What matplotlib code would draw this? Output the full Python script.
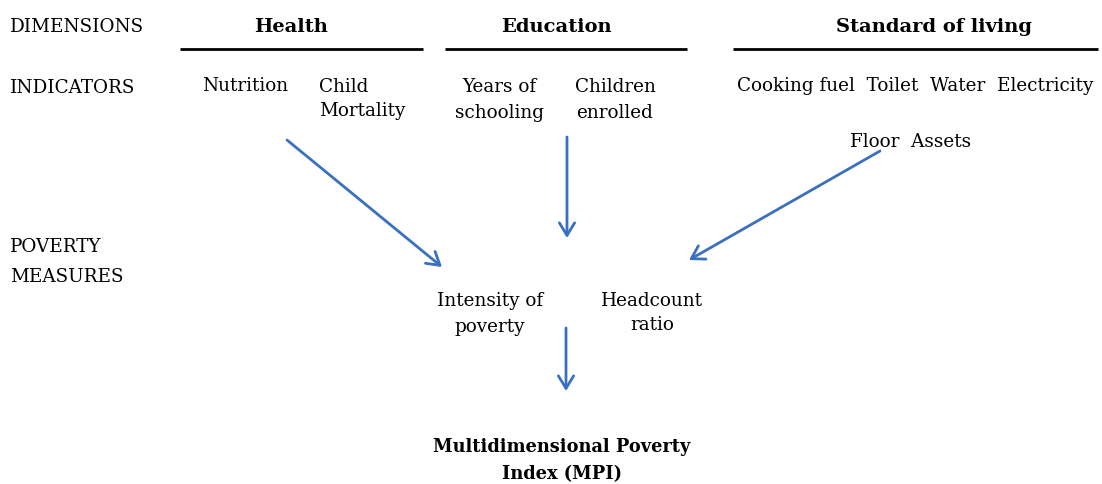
import matplotlib.pyplot as plt

# row labels on the left
row_labels = ['DIMENSIONS', 'INDICATORS', 'POVERTY\nMEASURES']

# dimensions and their indicators
dimensions = ['Health', 'Education', 'Standard of living']
health_ind = ['Nutrition', 'Child\nMortality']
education_ind = ['Years of\nschooling', 'Children\nenrolled']
living_ind = ['Cooking fuel  Toilet  Water  Electricity', 'Floor  Assets']

# poverty measures and final index
measures = ['Intensity of\npoverty', 'Headcount\nratio']
index_name = 'Multidimensional Poverty\nIndex (MPI)'

W, H = 1102, 484
blue = '#3a70c0'
font = 'DejaVu Serif'
fs = 13.2

fig = plt.figure(figsize=(W / 100, H / 100), dpi=100)
ax = fig.add_axes([0, 0, 1, 1])
ax.set_xlim(0, W)
ax.set_ylim(H, 0)
ax.axis('off')

# left column
ax.text(10, 27, row_labels[0], family=font, fontsize=fs, va='center', ha='left')
ax.text(10, 88, row_labels[1], family=font, fontsize=fs, va='center', ha='left')
ax.text(10, 262, row_labels[2], family=font, fontsize=fs, va='center', ha='left',
        linespacing=1.9)

# dimension headings with rules under them
dim_x = [291, 556, 934]
dim_span = [(180, 423), (445, 687), (733, 1098)]
for name, x, (x0, x1) in zip(dimensions, dim_x, dim_span):
    ax.text(x, 27, name, family=font, fontsize=14, fontweight='bold', va='center', ha='center')
    ax.plot([x0, x1], [49, 49], color='black', lw=2, solid_capstyle='butt')

# indicators
ax.text(245, 86, health_ind[0], family=font, fontsize=fs, va='center', ha='center')
ax.text(319, 99, health_ind[1], family=font, fontsize=fs, va='center', ha='left', linespacing=1.45)
ax.text(499, 100, education_ind[0], family=font, fontsize=fs, va='center', ha='center', linespacing=1.55)
ax.text(615, 100, education_ind[1], family=font, fontsize=fs, va='center', ha='center', linespacing=1.55)
ax.text(915, 86, living_ind[0], family=font, fontsize=fs, va='center', ha='center')
ax.text(911, 142, living_ind[1], family=font, fontsize=fs, va='center', ha='center')

# poverty measures
ax.text(490, 314, measures[0], family=font, fontsize=fs, va='center', ha='center', linespacing=1.55)
ax.text(652, 313, measures[1], family=font, fontsize=fs, va='center', ha='center', linespacing=1.45)

# final index
ax.text(562, 461, index_name, family=font, fontsize=12.8, fontweight='bold', va='center',
        ha='center', linespacing=1.65)

# arrows
arrows = [((287, 140), (442, 267)),
          ((567, 137), (567, 238)),
          ((880, 151), (689, 260)),
          ((566, 328), (566, 391))]
for start, end in arrows:
    ax.annotate('', xy=end, xytext=start,
                arrowprops=dict(arrowstyle='->,head_length=0.9,head_width=0.55',
                                color=blue, lw=2, shrinkA=0, shrinkB=0))

fig.savefig('out.png', dpi=100)
